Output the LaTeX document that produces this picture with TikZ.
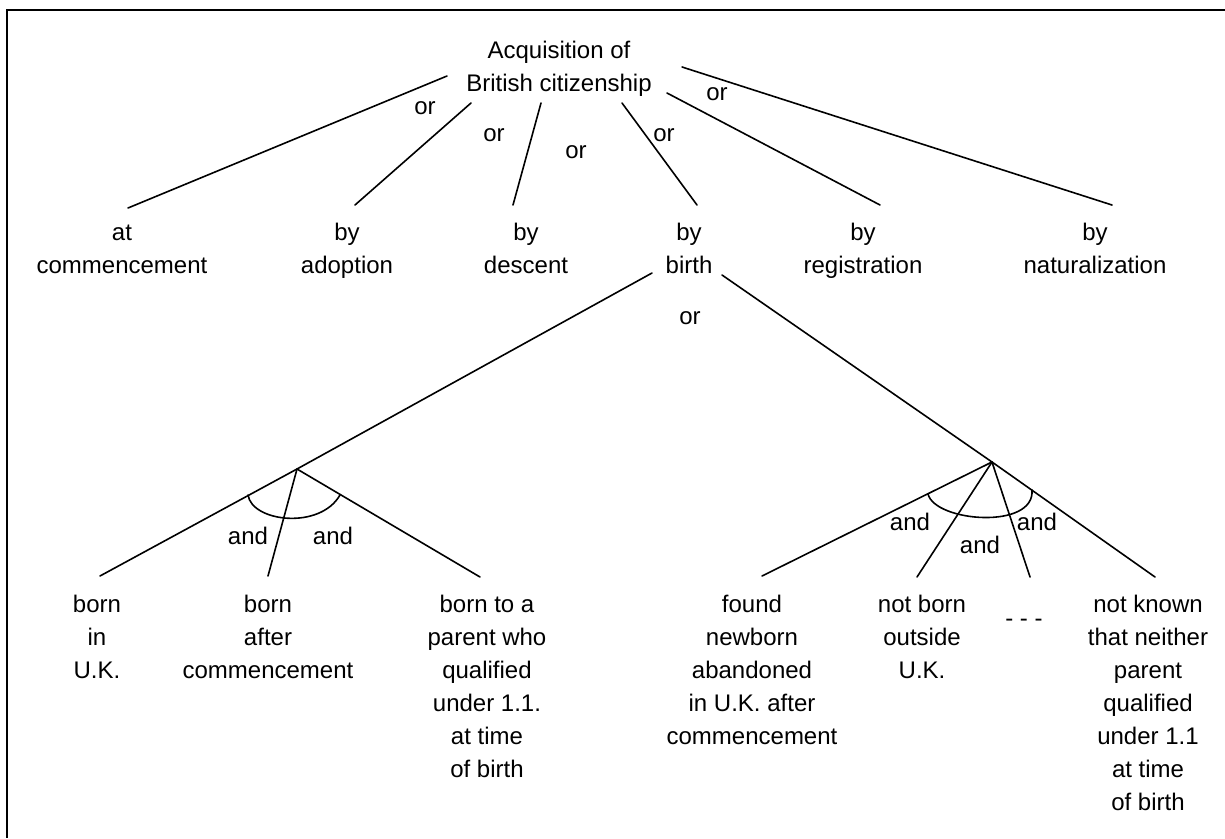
\documentclass[tikz,border=0pt]{standalone}
\usepackage{fontspec}
\setmainfont{Liberation Sans}
\begin{document}
\begin{tikzpicture}[x=1pt,y=-1pt,
  txt/.style={font=\fontsize{24}{33}\selectfont, align=center, inner sep=0pt, anchor=base},
  lbl/.style={font=\fontsize{24}{33}\selectfont, inner sep=0pt, anchor=center},
  conn/.style={line width=1.6pt, line cap=round},
  frame/.style={line width=2pt}]
\useasboundingbox (0,0) rectangle (1225,838);
% frame (top and left edges)
\coordinate (fr1) at (1225,10);
\coordinate (fr2) at (7,10);
\coordinate (fr3) at (7,838);
\draw[frame] (fr1) -- (fr2) -- (fr3);

% root and first level (node base = baseline of last line)
\node[txt] (root)  at (559,91)  {Acquisition of\\British citizenship};
\node[txt] (atc)   at (122,273) {at\\commencement};
\node[txt] (adop)  at (347,273) {by\\adoption};
\node[txt] (desc)  at (526,273) {by\\descent};
\node[txt] (birth) at (689,273) {by\\birth};
\node[txt] (reg)   at (863,273) {by\\registration};
\node[txt] (nat)   at (1095,273) {by\\naturalization};

% connector end points
\coordinate (s1) at (447,76);  \coordinate (e1) at (128,208);
\coordinate (s2) at (471,103); \coordinate (e2) at (355,205);
\coordinate (s3) at (541,103); \coordinate (e3) at (513,205);
\coordinate (s4) at (622,103); \coordinate (e4) at (697,205);
\coordinate (s5) at (667,93);  \coordinate (e5) at (880,205);
\coordinate (s6) at (682,67);  \coordinate (e6) at (1112,205);
\draw[conn] (s1) -- (e1);
\draw[conn] (s2) -- (e2);
\draw[conn] (s3) -- (e3);
\draw[conn] (s4) -- (e4);
\draw[conn] (s5) -- (e5);
\draw[conn] (s6) -- (e6);

\node[lbl] (or1) at (425,108) {or};
\node[lbl] (or2) at (494,135) {or};
\node[lbl] (or3) at (576,152) {or};
\node[lbl] (or4) at (664,135) {or};
\node[lbl] (or5) at (717,94)  {or};
\node[lbl] (or6) at (690,318) {or};

% birth branches
\coordinate (bl) at (652,273);
\coordinate (br) at (722,275);
\coordinate (vA) at (297,469);
\coordinate (vB) at (992,462);
\draw[conn] (bl) -- (vA);
\draw[conn] (br) -- (vB);

% bottom level
\node[txt] (bin)   at (97,678)   {born\\in\\U.K.};
\node[txt] (baft)  at (268,678)  {born\\after\\commencement};
\node[txt] (bpar)  at (487,777)  {born to a\\parent who\\qualified\\under 1.1.\\at time\\of birth};
\node[txt] (found) at (752,744)  {found\\newborn\\abandoned\\in U.K. after\\commencement};
\node[txt] (nbo)   at (922,678)  {not born\\outside\\U.K.};
\node[txt] (dots)  at (1024,626) {- - -};
\node[txt] (nk)    at (1148,810) {not known\\that neither\\parent\\qualified\\under 1.1\\at time\\of birth};

\coordinate (a1) at (100,576);
\coordinate (a2) at (268,576);
\coordinate (a3) at (480,577);
\coordinate (b1) at (762,576);
\coordinate (b2) at (917,577);
\coordinate (b3) at (1030,577);
\coordinate (b4) at (1155,577);
\draw[conn] (vA) -- (a1);
\draw[conn] (vA) -- (a2);
\draw[conn] (vA) -- (a3);
\draw[conn] (vB) -- (b1);
\draw[conn] (vB) -- (b2);
\draw[conn] (vB) -- (b3);
\draw[conn] (vB) -- (b4);

% "and" arcs
\coordinate (arcA1) at (248,495);
\coordinate (arcA2) at (340,495);
\coordinate (arcB1) at (928,494);
\coordinate (arcB2) at (1032,490);
\draw[conn] (arcA1) .. controls (252,522) and (320,530) .. (arcA2);
\draw[conn] (arcB1) .. controls (935,522) and (1035,530) .. (arcB2);

\node[lbl] (and1) at (248,536) {and};
\node[lbl] (and2) at (333,536) {and};
\node[lbl] (and3) at (910,522) {and};
\node[lbl] (and4) at (980,545) {and};
\node[lbl] (and5) at (1037,522) {and};
\end{tikzpicture}
\end{document}
